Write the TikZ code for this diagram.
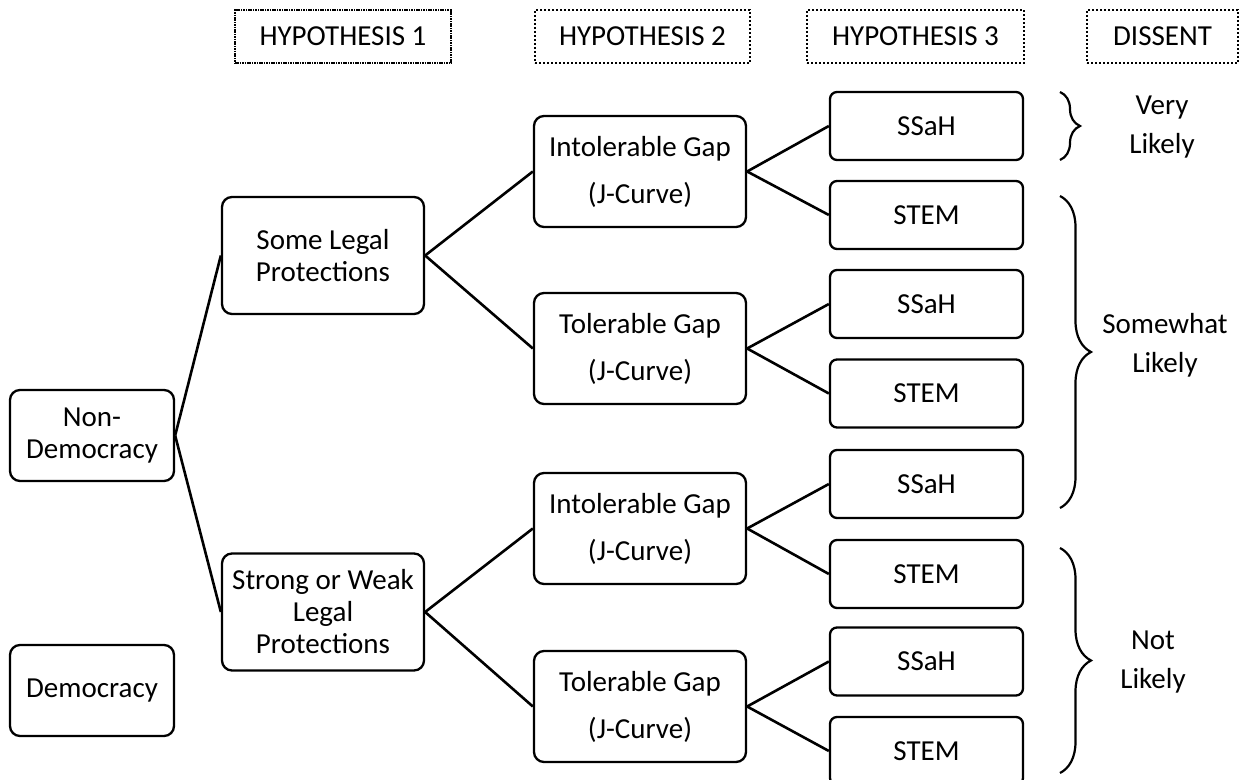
\documentclass[tikz,border=0pt]{standalone}
\usepackage{fontspec}
\setmainfont{Carlito}
\usepackage{tikz}
\usetikzlibrary{decorations.pathreplacing}

\begin{document}
\begin{tikzpicture}[
  x=0.5pt, y=-0.5pt,
  every node/.style={font=\fontsize{14.5}{16}\selectfont},
  header/.style={rectangle, draw, line width=0.8pt, dash pattern=on 0.8pt off 1.2pt, minimum height=26.5pt, inner sep=0pt},
  stage/.style={rectangle, draw, line width=1.15pt, rounded corners=5pt, align=center, inner sep=2pt},
  gapbox/.style={stage, minimum width=106pt, minimum height=55.5pt, font=\fontsize{14.5}{23.5}\selectfont},
  field/.style={rectangle, draw, line width=1.15pt, rounded corners=3.5pt, minimum width=96.5pt, minimum height=34pt},
  verdict/.style={align=center, font=\fontsize{14.5}{19.5}\selectfont},
  link/.style={line width=1.3pt},
  bracket/.style={line width=1.1pt, decorate, decoration={brace, amplitude=#1}}
]
\clip (0,0) rectangle (1248,780);

% column headers
\node[header, minimum width=108pt, dash pattern=on 0.8pt off 0.4pt] (hyp1) at (343,36.5) {HYPOTHESIS 1};
\node[header, minimum width=107.5pt] (hyp2) at (642.5,36.5) {HYPOTHESIS 2};
\node[header, minimum width=108.5pt] (hyp3) at (915.5,36.5) {HYPOTHESIS 3};
\node[header, minimum width=75.5pt] (dissent) at (1162.5,36.5) {DISSENT};

% regimes
\node[stage, minimum width=82pt, minimum height=45.5pt] (nondem) at (92,435.5) {Non-\\Democracy};
\node[stage, minimum width=82pt, minimum height=45.5pt] (dem) at (92,690.5) {Democracy};

% legal protections
\node[stage, minimum width=101pt, minimum height=58.5pt] (some) at (323,255.5) {Some Legal\\Protections};
\node[stage, minimum width=101pt, minimum height=58.5pt] (strong) at (323,612) {Strong or Weak\\Legal\\Protections};

% gaps
\node[gapbox] (intolA) at (640,171.5) {Intolerable Gap\\(J-Curve)};
\node[gapbox] (tolA) at (640,348.5) {Tolerable Gap\\(J-Curve)};
\node[gapbox] (intolB) at (640,528.5) {Intolerable Gap\\(J-Curve)};
\node[gapbox] (tolB) at (640,706.5) {Tolerable Gap\\(J-Curve)};

% fields
\node[field] (ssahA) at (926.5,126) {SSaH};
\node[field] (stemA) at (926.5,215) {STEM};
\node[field] (ssahB) at (926.5,304) {SSaH};
\node[field] (stemB) at (926.5,393.5) {STEM};
\node[field] (ssahC) at (926.5,484) {SSaH};
\node[field] (stemC) at (926.5,574) {STEM};
\node[field] (ssahD) at (926.5,661.5) {SSaH};
\node[field] (stemD) at (926.5,751) {STEM};

% dissent
\node[verdict] (very) at (1162,127) {Very\\Likely};
\node[verdict] (somewhat) at (1165,345) {Somewhat\\Likely};
\node[verdict] (notlikely) at (1153,662) {Not\\Likely};

\draw[bracket=10pt] (1060,92) -- (1060,160);
\draw[bracket=15.5pt] (1060,196) -- (1060,508);
\draw[bracket=15.5pt] (1060,548) -- (1060,773);

\draw[link] (nondem.east) -- (some.west);
\draw[link] (nondem.east) -- (strong.west);
\draw[link] (some.east) -- (intolA.west);
\draw[link] (some.east) -- (tolA.west);
\draw[link] (strong.east) -- (intolB.west);
\draw[link] (strong.east) -- (tolB.west);
\draw[link] (intolA.east) -- (ssahA.west);
\draw[link] (intolA.east) -- (stemA.west);
\draw[link] (tolA.east) -- (ssahB.west);
\draw[link] (tolA.east) -- (stemB.west);
\draw[link] (intolB.east) -- (ssahC.west);
\draw[link] (intolB.east) -- (stemC.west);
\draw[link] (tolB.east) -- (ssahD.west);
\draw[link] (tolB.east) -- (stemD.west);
\end{tikzpicture}
\end{document}
